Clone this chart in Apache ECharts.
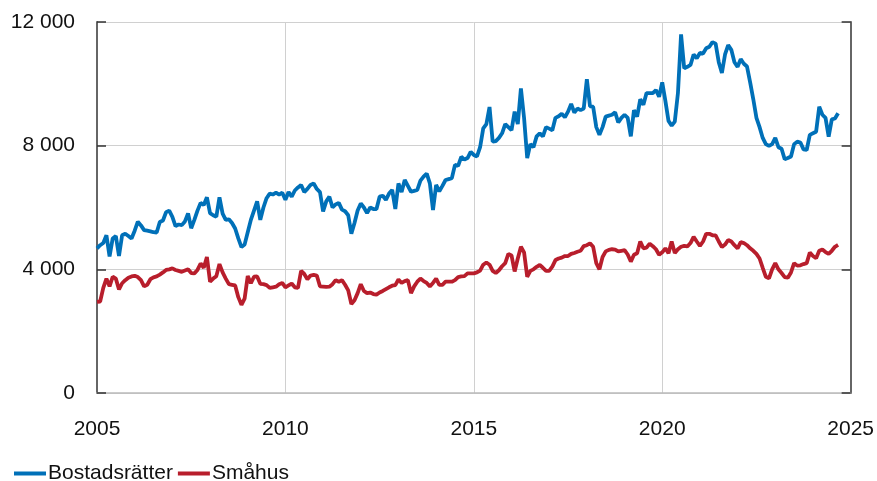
<!DOCTYPE html>
<html>
<head>
<meta charset="utf-8">
<script src="https://cdn.jsdelivr.net/npm/echarts@6/dist/echarts.min.js"></script>
<style>html,body{margin:0;padding:0;background:#fff}#c{width:877px;height:481px}</style>
</head>
<body>
<div id="c"></div>
<script>
const startYear = 2005;
const seriesNames = ['Bostadsrätter', 'Småhus'];
const xTicks = [2005, 2010, 2015, 2020, 2025];
const yTicks = [0, 4000, 8000, 12000];

// Monthly values, Jan 2005 – Sep 2024
const bostadsratter = [
  4680,4780,4850,5100,4420,5000,5080,4430,5100,5150,5080,5000,
  5250,5540,5420,5270,5250,5230,5200,5190,5530,5580,5850,5900,
  5700,5400,5450,5430,5550,5810,5330,5600,5900,6150,6080,6330,
  5820,5750,5700,6330,5800,5600,5620,5500,5320,5000,4720,4800,
  5200,5600,5900,6200,5600,6000,6300,6450,6420,6480,6420,6480,
  6250,6500,6350,6550,6650,6730,6500,6600,6730,6780,6600,6500,
  5870,6200,6350,6000,6100,6150,5930,5880,5750,5150,5500,5900,
  6130,6000,5820,6000,5950,5950,6350,6380,6250,6450,6570,5950,
  6780,6500,6890,6700,6510,6540,6570,6870,7000,7100,6780,5920,
  6730,6520,6700,6890,6920,6950,7380,7350,7640,7550,7600,7800,
  7700,7650,7950,8560,8700,9250,8130,8150,8250,8400,8700,8600,
  8500,9100,8700,9850,8900,7600,8050,7950,8300,8400,8300,8600,
  8550,8500,8900,8950,9030,8920,9100,9350,9070,9200,9150,9200,
  10150,9270,9260,8600,8350,8600,8940,8970,9000,9080,8750,8900,
  9000,8900,8300,9150,8940,9500,9320,9700,9700,9700,9800,9580,
  10050,9450,8800,8650,8780,9700,11600,10500,10550,10610,10950,10830,
  11000,10980,11150,11200,11350,11300,10700,10350,10950,11250,11100,10700,
  10550,10800,10650,10560,10050,9500,8900,8600,8250,8050,7990,8050,
  8250,7950,7900,7560,7600,7650,8050,8130,8100,7880,7860,8350,
  8400,8450,9260,9000,8900,8290,8850,8880,9050
];
const smahus = [
  2950,2960,3400,3700,3450,3760,3700,3350,3550,3650,3730,3770,
  3790,3750,3650,3450,3500,3680,3740,3770,3830,3900,3980,4000,
  4030,3980,3950,3920,3960,4000,3880,3870,3980,4190,4050,4400,
  3600,3700,3780,4170,3900,3700,3520,3500,3480,3100,2850,3050,
  3780,3550,3760,3770,3530,3520,3490,3400,3420,3440,3520,3560,
  3420,3480,3540,3420,3400,3950,3850,3680,3800,3820,3800,3450,
  3440,3430,3440,3520,3650,3600,3650,3500,3320,2880,3000,3230,
  3520,3300,3230,3250,3200,3180,3250,3300,3360,3420,3470,3490,
  3670,3560,3620,3650,3230,3450,3600,3700,3620,3560,3450,3560,
  3700,3500,3500,3600,3600,3600,3650,3750,3770,3780,3870,3870,
  3870,3900,3960,4150,4220,4150,3950,3880,3970,4100,4200,4500,
  4450,3930,4350,4730,4550,3760,3950,4000,4080,4140,4050,3950,
  3950,4090,4300,4350,4380,4430,4430,4500,4530,4570,4600,4750,
  4780,4840,4730,4200,4000,4400,4580,4630,4650,4640,4580,4600,
  4620,4480,4250,4470,4520,4900,4680,4700,4830,4750,4650,4470,
  4550,4680,4520,4900,4530,4650,4730,4760,4740,4850,5050,4900,
  4760,4900,5150,5150,5100,5100,4900,4720,4800,4950,4900,4780,
  4680,4880,4850,4780,4680,4600,4500,4350,4050,3760,3710,4000,
  4200,4000,3880,3750,3730,3900,4200,4120,4130,4170,4200,4540,
  4430,4360,4600,4640,4560,4500,4600,4730,4790
];

const toPairs = arr => arr.map((v, i) => [startYear + i / 12, v]);
const fmtNum = v => String(v).replace(/\B(?=(\d{3})+(?!\d))/g, ' ');
const FONT = '"Liberation Sans", Arial, sans-serif';

const chart = echarts.init(document.getElementById('c'), null, {renderer: 'canvas'});
const yCommon = {
  type: 'value', min: yTicks[0], max: yTicks[yTicks.length - 1], interval: 4000,
  axisLine: {show: true, lineStyle: {color: '#666', width: 2}},
  axisTick: {show: true, inside: true, length: 9, lineStyle: {color: '#333', width: 1.5}},
};
chart.setOption({
  animation: false,
  textStyle: {fontFamily: FONT},
  grid: {left: 97, right: 25, top: 22, bottom: 88},
  legend: {
    data: seriesNames, left: 9, top: 458, icon: 'rect', itemWidth: 32, itemHeight: 4, itemGap: 5,
    textStyle: {fontSize: 21, color: '#111', fontFamily: FONT, padding: [0, 0, 0, -3]}
  },
  xAxis: {
    type: 'value', min: xTicks[0], max: xTicks[xTicks.length - 1], interval: 5,
    axisLine: {show: true, lineStyle: {color: '#bbb', width: 1.5}},
    axisTick: {show: false},
    splitLine: {show: true, lineStyle: {color: '#d0d0d0', width: 1}},
    axisLabel: {fontSize: 21, color: '#111', margin: 26, fontFamily: FONT,
      formatter: v => String(v)}
  },
  yAxis: [
    Object.assign({}, yCommon, {
      position: 'left',
      splitLine: {show: true, lineStyle: {color: '#d0d0d0', width: 1}},
      axisLabel: {fontSize: 21, color: '#111', margin: 22, fontFamily: FONT, formatter: v => fmtNum(v)}
    }),
    Object.assign({}, yCommon, {
      position: 'right',
      splitLine: {show: false},
      axisLabel: {show: false}
    })
  ],
  series: [
    {name: seriesNames[0], type: 'line', data: toPairs(bostadsratter), showSymbol: false,
     lineStyle: {color: '#0070B8', width: 3.8}, itemStyle: {color: '#0070B8'}},
    {name: seriesNames[1], type: 'line', data: toPairs(smahus), showSymbol: false,
     lineStyle: {color: '#B81E2C', width: 3.8}, itemStyle: {color: '#B81E2C'}}
  ]
});
</script>
</body>
</html>
